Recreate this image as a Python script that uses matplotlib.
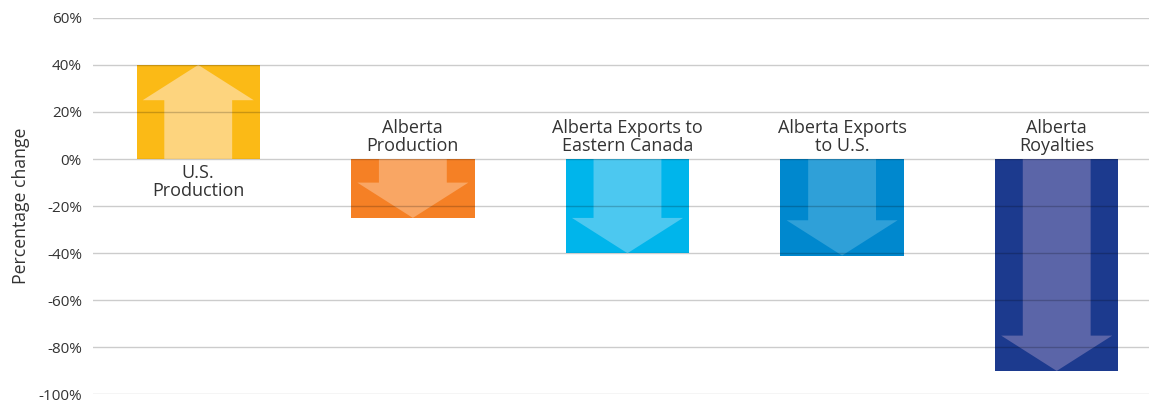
import matplotlib
matplotlib.use("Agg")
import matplotlib.pyplot as plt
from matplotlib.ticker import FuncFormatter

plt.rcParams["font.family"] = ["Open Sans", "DejaVu Sans"]

categories = ["U.S.\nProduction", "Alberta\nProduction", "Alberta Exports to\nEastern Canada",
              "Alberta Exports\nto U.S.", "Alberta\nRoyalties"]
values = [40, -25, -40, -41, -90]
bar_colors = ["#FBBA16", "#F58025", "#00B5EB", "#0088CE", "#1C3A8E"]
arrow_colors = ["#FDD47E", "#F9A664", "#4CC8F0", "#2FA0D8", "#5B65A8"]
yticks = [60, 40, 20, 0, -20, -40, -60, -80, -100]

fig = plt.figure(figsize=(11.49, 4.05), dpi=100)
ax = fig.add_axes([0.081, 0.026, 0.919, 0.93])

bw = 0.575
x = list(range(len(values)))
ax.bar(x, values, width=bw, color=bar_colors, zorder=1)

# lighter arrow drawn inside each bar, pointing in the direction of the change
for xi, v, c in zip(x, values, arrow_colors):
    ax.arrow(xi, 0, 0, v, width=0.55 * bw, head_width=0.9 * bw, head_length=15,
             length_includes_head=True, color=c, lw=0, zorder=2)

for xi, v, lab in zip(x, values, categories):
    if v >= 0:
        ax.text(xi, -2.0, lab, ha="center", va="top", fontsize=13, color="#333333",
                linespacing=1.05, zorder=4)
    else:
        ax.text(xi, 1.6, lab, ha="center", va="bottom", fontsize=13, color="#333333",
                linespacing=1.05, zorder=4)

ax.set_ylim(-100, 60)
ax.set_xlim(-0.49, 4.43)
ax.set_yticks(yticks)
ax.yaxis.set_major_formatter(FuncFormatter(lambda v, p: f"{v:.0f}%"))
ax.set_xticks([])
ax.tick_params(axis="y", length=0, pad=8, labelsize=11, labelcolor="#333333")
for s in ax.spines.values():
    s.set_visible(False)
ax.grid(axis="y", color="black", alpha=0.2, lw=1, zorder=3)
ax.set_axisbelow(False)
ax.set_ylabel("Percentage change", fontsize=12.7, color="#333333", labelpad=6)

fig.savefig("out.png", dpi=100)
